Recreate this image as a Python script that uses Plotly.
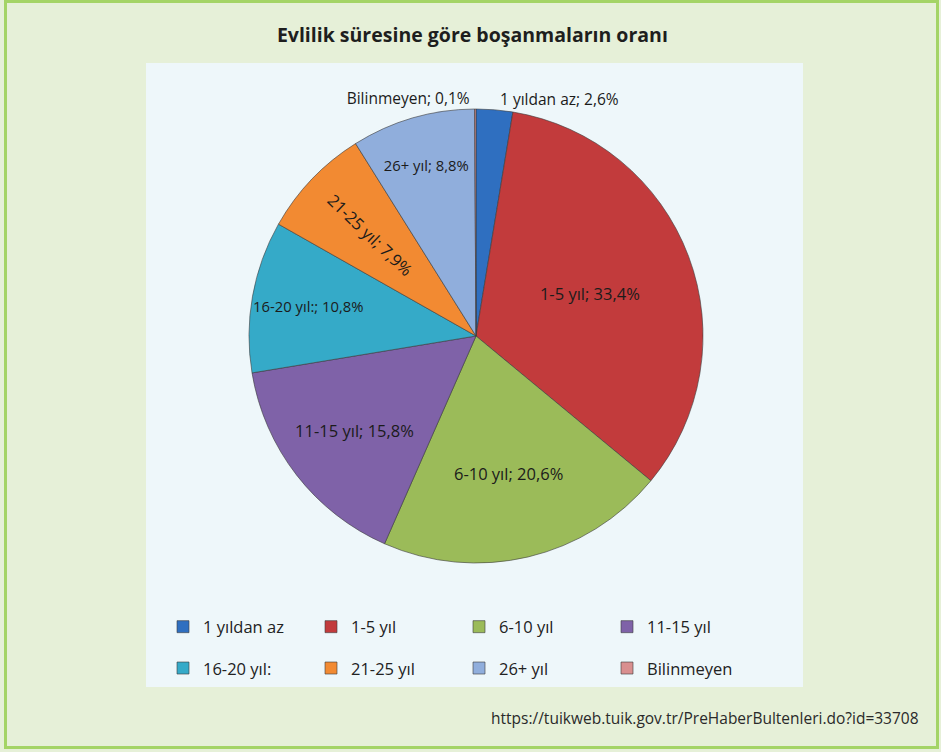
import plotly.graph_objects as go

# ---- data ----
categories = ["1 yıldan az", "1-5 yıl", "6-10 yıl", "11-15 yıl",
              "16-20 yıl:", "21-25 yıl", "26+ yıl", "Bilinmeyen"]
shares = [2.6, 33.4, 20.6, 15.8, 10.8, 7.9, 8.8, 0.1]
colors = ["#2f6fc0", "#c23b3c", "#9bbb59", "#7f62a8",
          "#35aac8", "#f28a32", "#90aedc", "#d98f8f"]
label_pos = ["outside", "inside", "inside", "inside",
             "inside", "inside", "inside", "outside"]
label_size = [15.5, 16.5, 16.5, 16.5, 14.8, 16.5, 14.8, 15.5]

title_text = "Evlilik süresine göre boşanmaların oranı"
source_text = "https://tuikweb.tuik.gov.tr/PreHaberBultenleri.do?id=33708"

W, H = 941, 752
ML, MR, MT, MB = 146, 138, 63, 65
PW, PH = W - ML - MR, H - MT - MB

def px_x(x):
    return (x - ML) / PW

def px_y(y):
    return (H - MB - y) / PH

FONT = "Open Sans"
legend_names = ['<span style="font-size:16.5px;baseline-shift:5px">%s</span>' % c
                for c in categories]

fig = go.Figure(go.Pie(
    labels=legend_names,
    values=shares,
    customdata=categories,
    sort=False,
    direction="clockwise",
    rotation=0,
    marker=dict(colors=colors, line=dict(color="rgba(60,60,60,0.6)", width=1)),
    texttemplate="%{customdata}; %{value:.1f}%",
    textposition=label_pos,
    insidetextorientation="auto",
    textfont=dict(family=FONT, size=label_size, color="#1b1b1b"),
    domain=dict(x=[px_x(249), px_x(703)], y=[px_y(563), px_y(109)]),
    hoverinfo="skip",
))

fig.update_layout(
    width=W, height=H,
    margin=dict(l=ML, r=MR, t=MT, b=MB),
    paper_bgcolor="#e6f0d8",
    separators=",.",
    font=dict(family=FONT, color="#222222"),
    title=dict(text="<b>" + title_text + "</b>", x=0.502, xanchor="center",
               y=1 - 35 / H, yanchor="middle",
               font=dict(family=FONT, size=19.5, color="#1e1e1e")),
    showlegend=True,
    legend=dict(orientation="h", x=px_x(163), xanchor="left",
                y=px_y(601), yanchor="top",
                entrywidth=103, entrywidthmode="pixels",
                font=dict(family=FONT, size=29.5, color="#222222"),
                bgcolor="rgba(0,0,0,0)", traceorder="normal"),
    shapes=[
        dict(type="rect", xref="paper", yref="paper", x0=0, x1=1, y0=0, y1=1,
             fillcolor="#eef7fa", line=dict(width=0), layer="below"),
        dict(type="rect", xref="paper", yref="paper",
             x0=px_x(5.5), x1=px_x(937.5), y0=px_y(747.5), y1=px_y(1.5),
             fillcolor="rgba(0,0,0,0)", line=dict(color="#a4d466", width=3),
             layer="above"),
    ],
    annotations=[
        dict(text=source_text, xref="paper", yref="paper",
             x=px_x(921), xanchor="right", y=px_y(718), yanchor="middle",
             showarrow=False, font=dict(family=FONT, size=15.5, color="#2a2a2a")),
    ],
)

fig.write_html("out.html", config={"displayModeBar": False},
               post_script="document.body.style.margin='0';")
